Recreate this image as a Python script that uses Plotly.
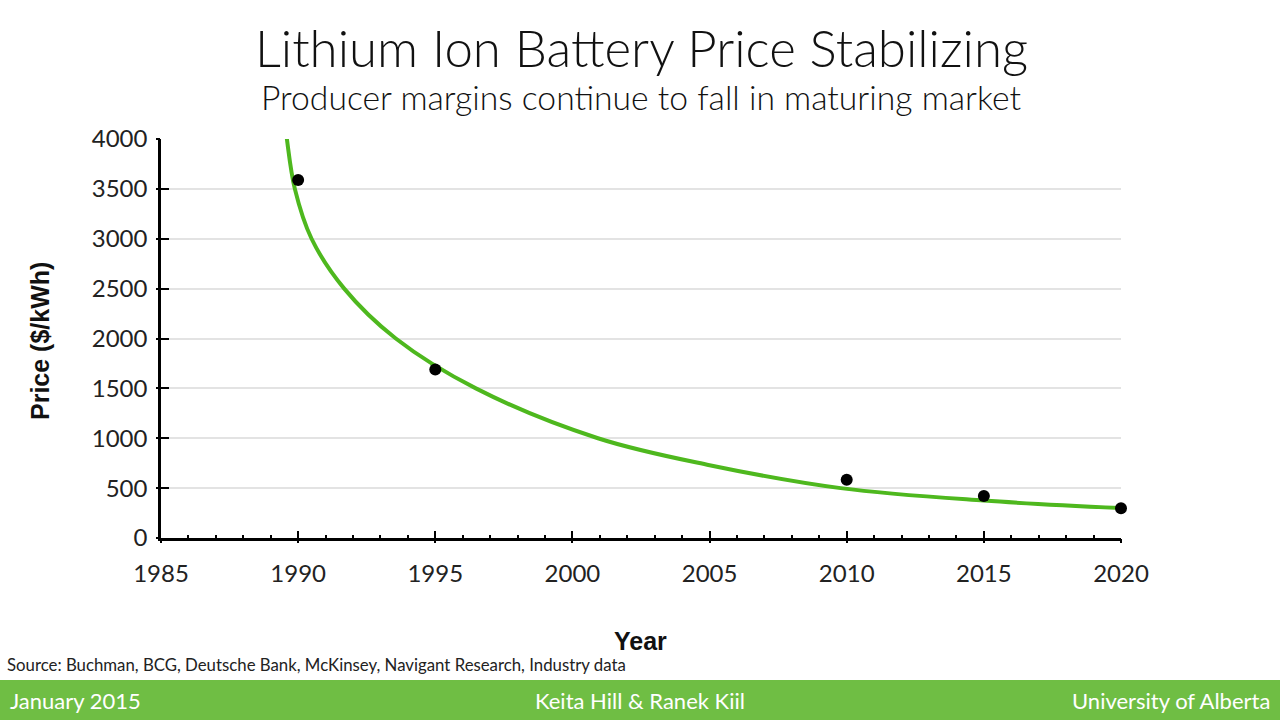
import plotly.graph_objects as go

# Observed data points
point_years = [1990, 1995, 2010, 2015, 2020]
point_prices = [3590, 1690, 585, 422, 298]

# Trend line
trend_years = [1989.45, 1989.59, 1989.88, 1990.49, 1991.68, 1993.56, 1996.48,
               2000.93, 2005.0, 2009.78, 2015.0, 2020.0]
trend_prices = [4350, 4000, 3500, 3000, 2500, 2000, 1500,
                1000, 730, 500, 375, 300]

title_text = "Lithium Ion Battery Price Stabilizing"
subtitle_text = "Producer margins continue to fall in maturing market"
y_title = "Price ($/kWh)"
x_title = "Year"
source_text = "Source: Buchman, BCG, Deutsche Bank, McKinsey, Navigant Research, Industry data"
footer_left = "January 2015"
footer_center = "Keita Hill & Ranek Kiil"
footer_right = "University of Alberta"

W, H = 1280, 720
L, R, T, B = 161, 159, 139, 182
pw, ph = W - L - R, H - T - B


def px_x(px):
    return (px - L) / pw


def px_y(py):
    return (H - B - py) / ph


GREEN_LINE = "#4eb81e"
GREEN_BAR = "#6fbe44"
FONT = "Lato"

fig = go.Figure()
fig.add_trace(go.Scatter(
    x=trend_years, y=trend_prices, mode="lines", line_shape="spline",
    line=dict(color=GREEN_LINE, width=4, smoothing=1.0), xaxis="x", yaxis="y",
    hoverinfo="skip", showlegend=False))
fig.add_trace(go.Scatter(
    x=point_years, y=point_prices, mode="markers",
    marker=dict(color="black", size=12), cliponaxis=False,
    xaxis="x2", yaxis="y2", showlegend=False))

common_x = dict(range=[1985, 2020], tickmode="linear", tick0=1985, dtick=5,
                showgrid=False, zeroline=False, tickcolor="black", tickwidth=2)
common_y = dict(range=[0, 4000], tickmode="linear", tick0=0, dtick=500,
                zeroline=False, tickcolor="black", tickwidth=2)

fig.update_layout(
    width=W, height=H, plot_bgcolor="white", paper_bgcolor="white",
    margin=dict(l=L, r=R, t=T, b=B),
    xaxis=dict(**common_x, ticks="inside", ticklen=7, showline=True,
               linecolor="black", linewidth=2.5,
               minor=dict(dtick=1, ticks="inside", ticklen=3, tickcolor="black", tickwidth=1.5),
               tickfont=dict(family=FONT, size=24, color="#222"), ticklabelstandoff=12),
    xaxis2=dict(**common_x, overlaying="x", anchor="y2", side="bottom",
                ticks="outside", ticklen=4, showticklabels=False, showline=False,
                minor=dict(dtick=1, ticks="outside", ticklen=2, tickcolor="black", tickwidth=1.5)),
    yaxis=dict(**common_y, ticks="inside", ticklen=8, showline=True,
               linecolor="black", linewidth=2.5, showgrid=True,
               gridcolor="#e3e3e3", gridwidth=1.5,
               tickfont=dict(family=FONT, size=24, color="#222"), ticklabelstandoff=6),
    yaxis2=dict(**common_y, overlaying="y", anchor="x2", side="left",
                ticks="outside", ticklen=4, showticklabels=False, showline=False,
                showgrid=False),
)

annotations = [
    dict(text=title_text, x=0.5, y=px_y(48),
         font=dict(family=FONT, size=51, color="#111", weight=300)),
    dict(text=subtitle_text, x=0.5, y=px_y(97),
         font=dict(family=FONT, size=33.7, color="#111", weight=300)),
    dict(text="<b>" + y_title + "</b>", x=px_x(40), y=px_y(341), textangle=-90,
         font=dict(family="Liberation Sans", size=25, color="#111")),
    dict(text="<b>" + x_title + "</b>", x=px_x(640), y=px_y(641),
         font=dict(family="Liberation Sans", size=25, color="#111")),
    dict(text=source_text, x=px_x(5), y=px_y(664), xanchor="left",
         font=dict(family=FONT, size=16.8, color="#222")),
    dict(text=footer_left, x=px_x(8), y=px_y(700), xanchor="left",
         font=dict(family=FONT, size=22, color="white")),
    dict(text=footer_center, x=px_x(640), y=px_y(700),
         font=dict(family=FONT, size=22, color="white")),
    dict(text=footer_right, x=px_x(1272), y=px_y(700), xanchor="right",
         font=dict(family=FONT, size=22, color="white")),
]
for a in annotations:
    a.setdefault("xanchor", "center")
    a.update(xref="paper", yref="paper", yanchor="middle", showarrow=False)
fig.update_layout(annotations=annotations)

fig.add_shape(type="rect", xref="paper", yref="paper",
              x0=px_x(0), x1=px_x(W), y0=px_y(H), y1=px_y(680),
              fillcolor=GREEN_BAR, line=dict(width=0), layer="below")

fig.write_html("out.html", config={"displayModeBar": False},
               post_script="document.body.style.margin='0px';")
